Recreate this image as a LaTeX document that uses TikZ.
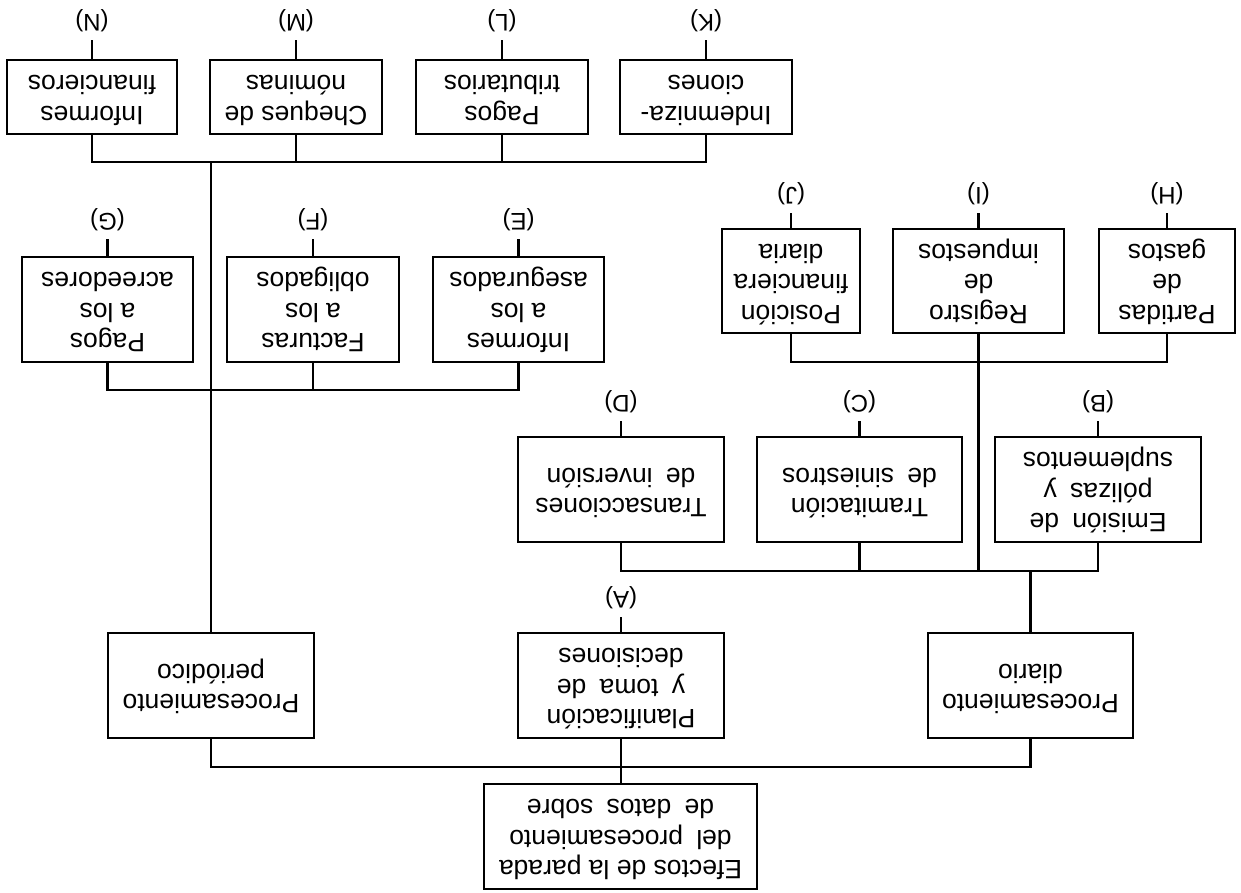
\documentclass[tikz,border=0pt]{standalone}
\usepackage{graphicx}
\usepackage{fontspec}
\setmainfont{Liberation Sans}
% text set upside down, lines centred
\newcommand\turn[1]{\rotatebox{180}{\begin{tabular}{@{}c@{}}#1\end{tabular}}}
\begin{document}
\begin{tikzpicture}[x=1pt,y=-1pt,
  box/.style={draw, line width=2.8pt, inner sep=0pt, minimum height=105pt,
    font=\fontsize{26.5}{30.5}\selectfont},
  tag/.style={inner sep=0pt, outer ysep=8pt, font=\fontsize{24}{26}\selectfont},
  link/.style={line width=2.3pt}]
\useasboundingbox (0,0) rectangle (1241,892);

% upper row
\node[box, minimum width=170pt, minimum height=74pt] (N) at (92,97)   {\turn{Informes\\financieros}};
\node[box, minimum width=172pt, minimum height=74pt] (M) at (296,97)  {\turn{Cheques de\\nóminas}};
\node[box, minimum width=172pt, minimum height=74pt] (L) at (502,97)  {\turn{Pagos\\tributarios}};
\node[box, minimum width=172pt, minimum height=74pt] (K) at (706,97)  {\turn{Indemniza-\\ciones}};
\node[tag] (tN) at (92,21)  {\rotatebox{180}{(N)}};
\node[tag] (tM) at (296,21) {\rotatebox{180}{(M)}};
\node[tag] (tL) at (502,21) {\rotatebox{180}{(L)}};
\node[tag] (tK) at (706,21) {\rotatebox{180}{(K)}};

% second row, left
\node[box, minimum width=171pt] (G) at (107.5,309.5) {\turn{Pagos\\a los\\acreedores}};
\node[box, minimum width=172pt] (F) at (313,309.5)   {\turn{Facturas\\a los\\obligados}};
\node[box, minimum width=171pt] (E) at (518.5,309.5) {\turn{Informes\\a los\\asegurados}};
\node[tag] (tG) at (107.5,220) {\rotatebox{180}{(G)}};
\node[tag] (tF) at (313,220)   {\rotatebox{180}{(F)}};
\node[tag] (tE) at (518.5,220) {\rotatebox{180}{(E)}};

% second row, right
\node[box, minimum width=138pt, minimum height=104pt] (J) at (791,281)   {\turn{Posición\\financiera\\diaria}};
\node[box, minimum width=171pt, minimum height=104pt] (I) at (978.5,281) {\turn{Registro\\de\\impuestos}};
\node[box, minimum width=136pt, minimum height=104pt] (H) at (1167,281)  {\turn{Partidas\\de\\gastos}};
\node[tag] (tJ) at (791,194)   {\rotatebox{180}{(J)}};
\node[tag] (tI) at (978.5,194) {\rotatebox{180}{(I)}};
\node[tag] (tH) at (1167,194)  {\rotatebox{180}{(H)}};

% third row
\node[box, minimum width=206pt] (D) at (621,489.5)   {\turn{Transacciones\\de\enspace inversión}};
\node[box, minimum width=205pt] (C) at (859.5,489.5) {\turn{Tramitación\\de\enspace siniestros}};
\node[box, minimum width=206pt] (B) at (1098,489.5)  {\turn{Emisión\enspace de\\pólizas\enspace y\\suplementos}};
\node[tag] (tD) at (621,402)  {\rotatebox{180}{(D)}};
\node[tag] (tC) at (859.5,402){\rotatebox{180}{(C)}};
\node[tag] (tB) at (1098,402) {\rotatebox{180}{(B)}};

% fourth row
\node[box, minimum width=206pt] (P) at (211,685.5)    {\turn{Procesamiento\\periódico}};
\node[box, minimum width=206pt] (A) at (621,685.5)    {\turn{Planificación\\y\enspace toma\enspace de\\decisiones}};
\node[box, minimum width=205pt] (Dia) at (1030.5,685.5) {\turn{Procesamiento\\diario}};
\node[tag] (tA) at (621,598) {\rotatebox{180}{(A)}};

% root
\node[box, minimum width=273pt] (R) at (620.5,836.5) {\turn{Efectos de la parada\\del\enspace procesamiento\\de\enspace datos\enspace sobre}};

% bus levels
\coordinate (bus1) at (0,162);
\coordinate (bus2) at (0,390);
\coordinate (bus3) at (0,362);
\coordinate (bus4) at (0,571);
\coordinate (bus5) at (0,767);

% stubs to the letters
\foreach \n in {N,M,L,K,G,F,E,J,I,H,D,C,B,A}
  \draw[link] (\n.north) -- (t\n.south);

% upper bus and trunk down to periodic processing
\draw[link] (N.south) -- (N.south |- bus1) -- (K.south |- bus1) -- (K.south);
\draw[link] (M.south) -- (M.south |- bus1);
\draw[link] (L.south) -- (L.south |- bus1);
\draw[link] (P.north |- bus1) -- (P.north);

% G--E bus
\draw[link] (G.south) -- (G.south |- bus2) -- (E.south |- bus2) -- (E.south);
\draw[link] (F.south) -- (F.south |- bus2);

% J--H bus and the tax register line
\draw[link] (J.south) -- (J.south |- bus3) -- (H.south |- bus3) -- (H.south);
\draw[link] (I.south) -- (I.south |- bus4);

% D--B bus down to daily processing
\draw[link] (D.south) -- (D.south |- bus4) -- (B.south |- bus4) -- (B.south);
\draw[link] (C.south) -- (C.south |- bus4);
\draw[link] (Dia.north |- bus4) -- (Dia.north);

% lower bus to the root box
\draw[link] (P.south) -- (P.south |- bus5) -- (Dia.south |- bus5) -- (Dia.south);
\draw[link] (A.south) -- (A.south |- R.north);
\end{tikzpicture}
\end{document}
